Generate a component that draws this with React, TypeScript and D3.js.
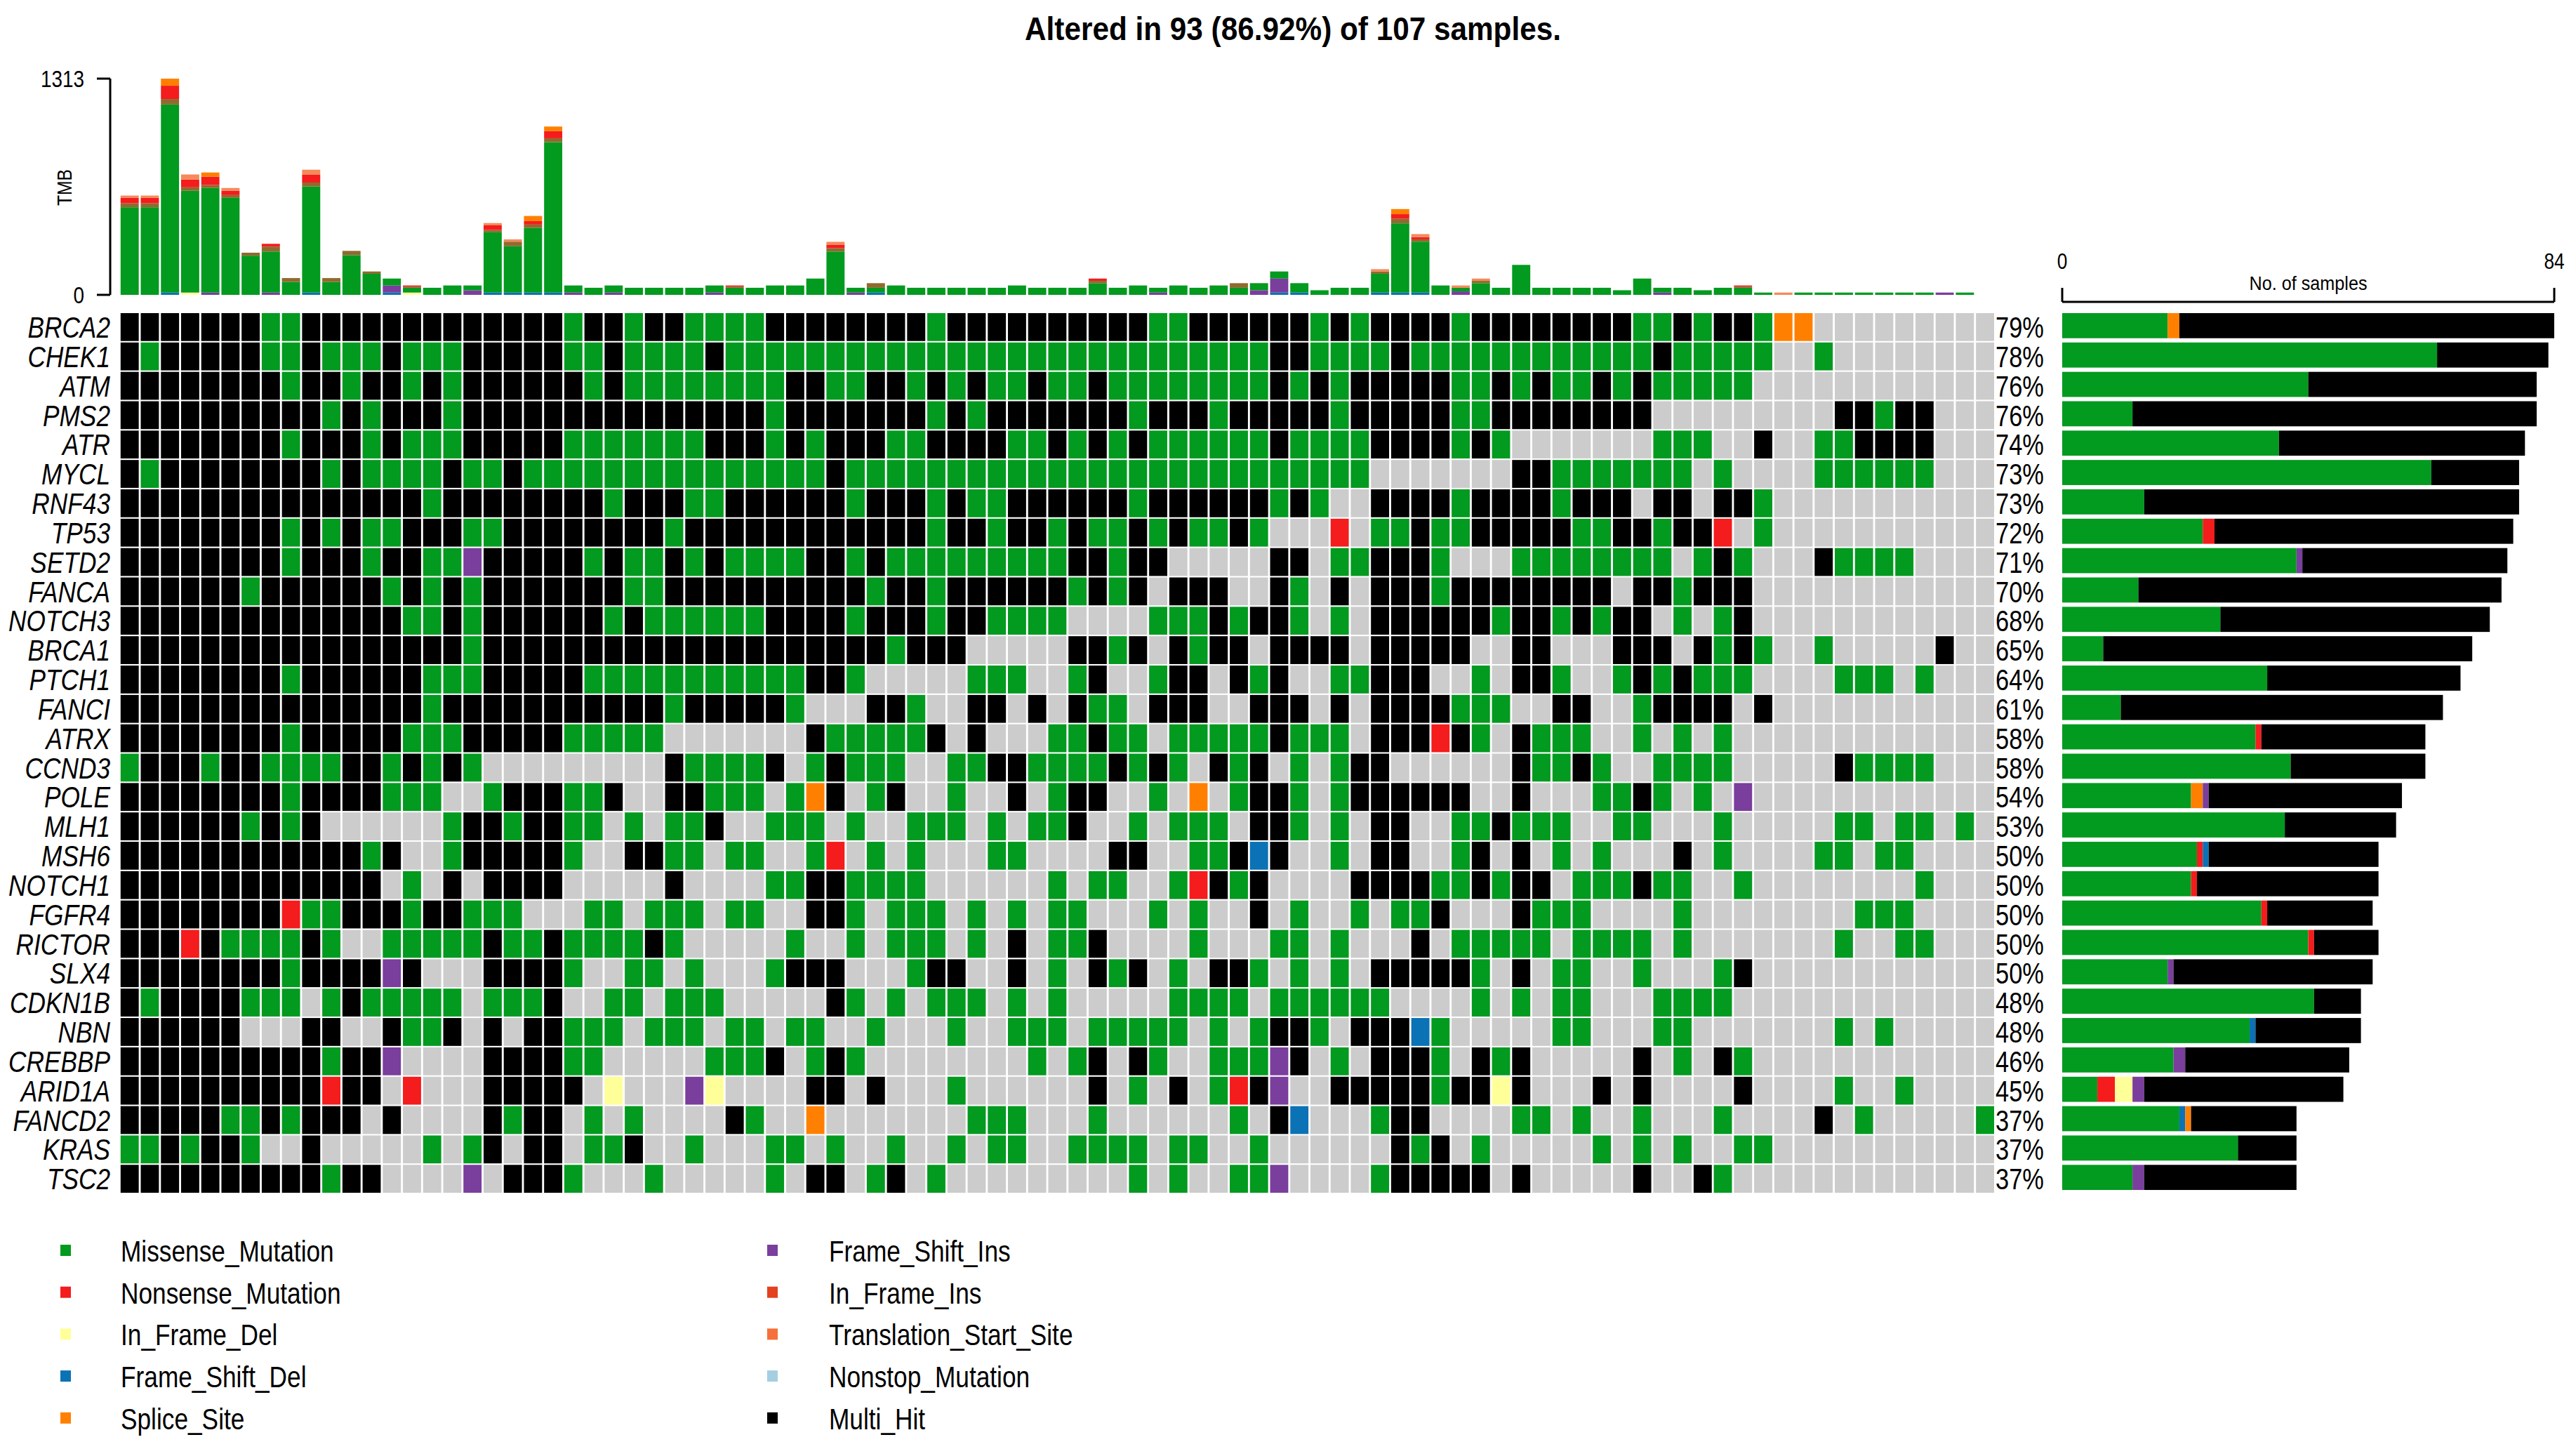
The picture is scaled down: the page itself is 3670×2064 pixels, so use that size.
import React from "react";
import * as d3 from "d3";

// oncoplot: 30 genes x 93 altered samples (107 total)
const W = 3670;
const H = 2064;

const titleText = "Altered in 93 (86.92%) of 107 samples.";

const genes = [
  "BRCA2", "CHEK1", "ATM", "PMS2", "ATR", "MYCL", "RNF43", "TP53", "SETD2", "FANCA",
  "NOTCH3", "BRCA1", "PTCH1", "FANCI", "ATRX", "CCND3", "POLE", "MLH1", "MSH6", "NOTCH1",
  "FGFR4", "RICTOR", "SLX4", "CDKN1B", "NBN", "CREBBP", "ARID1A", "FANCD2", "KRAS", "TSC2",
];

const genePct = [
  "79%", "78%", "76%", "76%", "74%", "73%", "73%", "72%", "71%", "70%",
  "68%", "65%", "64%", "61%", "58%", "58%", "54%", "53%", "50%", "50%",
  "50%", "50%", "50%", "48%", "48%", "46%", "45%", "37%", "37%", "37%",
];

// one char per sample: G missense, R nonsense, Y in-frame del, B frame-shift del,
// O splice site, P frame-shift ins, K multi-hit, . no mutation
const mutationRows = [
  "KKKKKKKGGKKKKKKKKKKKKKGK" + "KGKKGGGGKKKKKKKKGKKKKK" + "KKKKKGGKKKKKKGKGKKKKGKK" + "KKKKKKGGKGKKGOO.........",
  "KGKKKKKGGKGGGKGGGKKKKKGG" + "KGGGGKGGGGGGGGGGGGGGGG" + "GGGGGGGGGGGKKGGGGKGGGGG" + "GGGGGGGKGGGGG..G........",
  "KKKKKKKKGKKGKKGKGKKKKKKG" + "KGGGGGGGGKKGGKKGKGKGGK" + "GGKGGGGGGGGKGKGKKKKKGGK" + "GKGGKGKGGGGG............",
  "KKKKKKKKKKGKGKKKGKKKKKKK" + "KKKKKKKKGKKKKKKKGKGKKK" + "KKKKGKKKGKKKKKGKKKKKGGK" + "KKKKKKK.........KKGKK...",
  "KKKKKKKKGKKKGKGGGKKKKKGG" + "GGGGGKKKGKGKKKGGKKKKGG" + "KGKGKGGGGGGKGGGGKKKKGKG" + ".......GGG..K..GGKKKK...",
  "KGKKKKKKKKGKGGGGKGGKGGGG" + "GGGGGGGGGGGKGGGGGGGGGG" + "GGGGGGGGGGGGGGGG......." + "KKGGGGGGG.G....GGGGGG...",
  "KKKKKKKKKKKKKKKGKKKKKKKK" + "GKKKGGKKKKKKGKKKGKGGKK" + "KKKKGKKKKKKGKG..KKKKGKK" + "KKGKKK.KK.KKG...........",
  "KKKKKKKKGKGKGGKKKGGKKKKK" + "KKKGKKKKKKKKKKKKGKKGKK" + "GKGGKGKGGKG...R.GGKGGKK" + "KKKGGKKGKKR.G...........",
  "KKKKKKKKGKKKGKKGGPKKKKKG" + "KGGKGKGGGGKKGKGGGGGGGG" + "GKKGKK.....KK.GGKKKG..." + "GGGGGGGG.GKG...KGGGG....",
  "KKKKKKGKKKKKKGKGKGKKKKKK" + "KGGKKKKKKKKKKGKKGKKKKK" + "KGKGK.KKK..KG.K.KKKGKKK" + "KKKKK.KKGKKK............",
  "KKKKKKKKKKKKKKGGKGKKKKKK" + "GKGGGGGGKKKKGKKKGKKGGG" + "G....GGGKGKKG.G.KKKKKKG" + "KKGKGKK.G.GK............",
  "KKKKKKKKKKKKKKKKKGKKKKKK" + "KKKKKKKKKKKKKKGKKK...." + ".KKGK.KGKK.KKKK.KKKKK.." + "KK...KKK.KGKG..G.....K..",
  "KKKKKKKKGKKKKKKGGGKKKKKG" + "GGGGGGGGGGKKG.....GGG." + ".GK..GKK.KGK..GGKKK..G." + "KKG..GKGKGGG....GGG.G...",
  "KKKKKKKKKKKKKKKGKKKKKKKK" + "KKKGKKKKKG...KKG..KK.K" + ".KGG.KKK..KKK.K.KKKKGGG" + "..KK..GKKKK.K...........",
  "KKKKKKKKGKKKKKGGGKKKKKGG" + "GGG.......KGGGGGK.K..." + "GGKGG.GGGGGKGGG.KKKRKG." + "KGGG..G.G.G.............",
  "GKKKGKKGGGGKKGKGKG......" + "...KGGGGK.GKGGG..GGKKG" + "GGGKGKG.KGK.G.GKK......" + "KGGKG..GGGG.....KGGGG...",
  "KKKKKKKKGKKKKGGG..GKKKGG" + "K..KKGGG.GOK.GK..G..K." + "GKK..G.O.GKKG.GKKKKKK.." + "K...GGKG.G.P............",
  "KKKKKKGKGK......GKKGKKGG" + ".G.GGK..GGG.G..GGG.G.G" + "GK..G.GGG.KKG.G.KK..GGK" + "GGG..GG...G.....GG.GG.G.",
  "KKKKKKKKKKKKGK..GKKKKKG." + ".KKGG.GG..GR.G.G...GG." + "...KK..GGKBK..G.KK..GK." + "K.G.G...K.G....GG.GG....",
  "KKKKKKKKKKKKK.G.K.KKKK.." + "...K....GGKKGGGG......" + "G.GG..GRKGK....KKKKGGKG" + "KK.GGGKGG..G........G...",
  "KKKKKKKKRGGKKKGKKGGG...G" + "G.GGG.GG..KKG.GGG.G.G." + "GG...G.G..K.G..G.GGK..." + "KGGG....G........GGG....",
  "KKKRKGGGGKG..GGGGGKGGKGG" + "GGKG.....G..G.GGG.G.K." + "GGK....G...GG.G...K.GGG" + "GG.GGGG.G.......G..GG...",
  "KKKKKKKKGKKKKPK...KKKKG." + ".GG.G...GKKK...GKK..K." + "G.KGK.G.KKG.G.G.KKKKKG." + "K.GG..G...GK............",
  "KGKKKKGGG.GKGGGGG.GGGK.." + "GG.GGG.....KG.G.GGG.G." + "G.....GGGG.GGGGGG....G." + "G.GG...GGGG.............",
  "KKKKKK...KK..KGGK.K.KKGG" + "G.GGG.GG.GG..G...G..GG" + "G.GGGGG.G.GKKG.KKKBG..." + "..GG...GG.......G.G.....",
  "KKKKKKKKKKGKKP....KKKKGG" + ".....GGGK.GKG........G" + ".GK.KG..GGGPK.G.KKKG.KG" + "K.....K.G.KG............",
  "KKKKKKKKKKRKK.R...KKKKK." + "Y...PY....KK.K...G...." + "..K.G.K.GRKP..KKKKKGKKY" + "K...K.K....K....G..G....",
  "KKKKKGGKGKKK.K....KGKK.G" + ".G....KG..O.......GGG." + "..G......G.KB...GKK...." + "GG.G..G...G....K.G.....G",
  "GGKGKKG..K.....G.GK.KK.G" + "GK..G...GG.G..G..G.GG." + ".GGGG.GG..G......KGK.G." + "....G.G.G..GG...........",
  "KKKKKKKKKKGKK....P.KKKG." + "..G.....G.KK.GK.G....." + "....G.G..GGP....GKKKKK." + "K.....K..KG.............",
];

// TMB per sample (total)
const tmbTotal = [
  603, 603, 1313, 731, 743, 649, 256, 310, 102, 760,
  102, 267, 142, 99, 57, 43, 57, 57, 436, 337,
  479, 1022, 57, 43, 57, 43, 43, 43, 43, 57,
  57, 43, 57, 57, 99, 322, 43, 71, 57, 43,
  43, 43, 43, 43, 57, 43, 43, 43, 99, 43,
  57, 43, 57, 43, 57, 71, 71, 142, 71, 28,
  43, 43, 156, 521, 369, 57, 57, 99, 43, 182,
  43, 43, 43, 43, 28, 99, 43, 43, 28, 43,
  57, 14, 14, 14, 14, 14, 14, 14, 14, 14,
  14, 14, 0,
];

// [sample, In_Frame_Ins, Nonsense, Splice_Site, Translation_Start_Site] stacked above missense
const tmbUpper = [
  [1, 24, 33, 0, 14], [2, 24, 33, 0, 14], [3, 33, 81, 43, 0], [4, 21, 47, 0, 31],
  [5, 18, 50, 26, 0], [6, 17, 26, 0, 17], [7, 18, 0, 0, 0], [8, 30, 17, 0, 0],
  [9, 24, 0, 0, 0], [10, 24, 47, 0, 31], [11, 24, 0, 0, 0], [12, 26, 0, 0, 0],
  [13, 14, 0, 0, 0], [15, 7, 7, 0, 0], [19, 14, 28, 0, 14], [20, 28, 0, 0, 14],
  [21, 21, 21, 31, 0], [22, 24, 43, 28, 0], [31, 7, 7, 0, 0], [36, 21, 21, 0, 17],
  [38, 28, 0, 0, 0], [49, 14, 14, 0, 0], [56, 28, 0, 0, 0], [63, 14, 0, 0, 14],
  [64, 28, 28, 31, 0], [65, 14, 14, 0, 18], [67, 0, 0, 0, 14], [68, 14, 0, 0, 14],
  [81, 7, 7, 0, 0], [83, 0, 0, 0, 14],
];

// [sample, Frame_Shift_Del, Frame_Shift_Ins, In_Frame_Del] stacked below missense
const tmbLower = [
  [3, 14, 0, 0], [4, 0, 0, 14], [5, 0, 14, 0], [8, 0, 14, 0], [10, 14, 0, 0],
  [14, 14, 43, 0], [15, 0, 0, 14], [18, 0, 28, 0], [19, 14, 0, 0], [20, 14, 0, 0],
  [21, 14, 0, 0], [22, 14, 0, 0], [23, 0, 14, 0], [25, 0, 14, 0], [30, 0, 14, 0],
  [37, 0, 14, 0], [38, 14, 0, 0], [52, 0, 14, 0], [57, 0, 28, 0], [58, 14, 85, 0],
  [59, 14, 0, 0], [63, 14, 0, 0], [64, 14, 0, 0], [65, 14, 0, 0], [67, 0, 21, 0],
  [77, 0, 14, 0], [91, 0, 14, 0],
];

const tmbTicks = [0, 1313];
const sampleTicks = [0, 84];

const legendLeft = ["Missense_Mutation", "Nonsense_Mutation", "In_Frame_Del", "Frame_Shift_Del", "Splice_Site"];
const legendRight = ["Frame_Shift_Ins", "In_Frame_Ins", "Translation_Start_Site", "Nonstop_Mutation", "Multi_Hit"];

const vcColors: Record<string, string> = {
  Missense_Mutation: "#029A1F",
  Nonsense_Mutation: "#F41C1C",
  In_Frame_Del: "#FFFF99",
  Frame_Shift_Del: "#0B72B5",
  Splice_Site: "#FF8000",
  Frame_Shift_Ins: "#7A3E9D",
  In_Frame_Ins: "#E3411F",
  Translation_Start_Site: "#F5703A",
  Nonstop_Mutation: "#A6CEE3",
  Multi_Hit: "#000000",
};
// thin layers in the TMB bars blur to these tones
const tmbColors: Record<string, string> = {
  ...vcColors,
  In_Frame_Ins: "#8E6B2F",
  Translation_Start_Site: "#F58A5A",
};

const codeClass: Record<string, string> = {
  G: "Missense_Mutation",
  R: "Nonsense_Mutation",
  Y: "In_Frame_Del",
  B: "Frame_Shift_Del",
  O: "Splice_Site",
  P: "Frame_Shift_Ins",
  I: "In_Frame_Ins",
  T: "Translation_Start_Site",
  N: "Nonstop_Mutation",
  K: "Multi_Hit",
};

const FONT = "'Liberation Sans', Arial, sans-serif";

const NText = ({ x, y, size, anchor = "start", sx = 0.82, italic = false, bold = false, rotate = 0, children }: any) => (
  <text
    transform={`translate(${x},${y}) rotate(${rotate}) scale(${sx},1)`}
    fontSize={size}
    textAnchor={anchor}
    fontFamily={FONT}
    fontStyle={italic ? "italic" : "normal"}
    fontWeight={bold ? "bold" : "normal"}
    fill="#000"
  >
    {children}
  </text>
);

export default function App() {
  const nCols = mutationRows[0].length;

  const xCol = d3.scaleBand<number>().domain(d3.range(nCols)).range([171.8, 2841]).paddingInner(0.1);
  const yRow = d3.scaleBand<number>().domain(d3.range(genes.length)).range([446, 1699]).paddingInner(0.05);
  const rowStep = yRow.step();
  const yTmb = d3.scaleLinear().domain([tmbTicks[0], tmbTicks[1]]).range([420, 112]);
  const xCount = d3.scaleLinear().domain(sampleTicks).range([2938, 3639]);

  // TMB stacked bars
  const upper = new Map(tmbUpper.map((r) => [r[0] - 1, r]));
  const lower = new Map(tmbLower.map((r) => [r[0] - 1, r]));
  const tmbRows = tmbTotal.map((total, i) => {
    const lo = lower.get(i) ?? [0, 0, 0, 0];
    const up = upper.get(i) ?? [0, 0, 0, 0, 0];
    const miss = Math.max(0, total - lo[1] - lo[2] - lo[3] - up[1] - up[2] - up[3] - up[4]);
    return {
      Frame_Shift_Del: lo[1],
      Frame_Shift_Ins: lo[2],
      In_Frame_Del: lo[3],
      Missense_Mutation: miss,
      In_Frame_Ins: up[1],
      Nonsense_Mutation: up[2],
      Splice_Site: up[3],
      Translation_Start_Site: up[4],
    };
  });
  const tmbKeys = [
    "Frame_Shift_Del", "Frame_Shift_Ins", "In_Frame_Del", "Missense_Mutation",
    "In_Frame_Ins", "Nonsense_Mutation", "Splice_Site", "Translation_Start_Site",
  ];
  const tmbStack = d3.stack<any>().keys(tmbKeys)(tmbRows);

  // right bars: counts per variant class, straight from the matrix
  const barKeys = [
    "Missense_Mutation", "Nonsense_Mutation", "In_Frame_Del", "Frame_Shift_Del", "Splice_Site",
    "Frame_Shift_Ins", "In_Frame_Ins", "Translation_Start_Site", "Nonstop_Mutation", "Multi_Hit",
  ];
  const geneCounts = mutationRows.map((row) => {
    const c: Record<string, number> = Object.fromEntries(barKeys.map((k) => [k, 0]));
    for (const ch of row) if (ch !== ".") c[codeClass[ch]] += 1;
    return c;
  });
  const barStack = d3.stack<any>().keys(barKeys)(geneCounts);
  const barH = rowStep * 0.855;

  const bw = xCol.bandwidth();

  return (
    <div style={{ position: "absolute", left: 0, top: 0, background: "#fff" }}>
      <svg width={W} height={H} viewBox={`0 0 ${W} ${H}`} style={{ display: "block" }}>
        <rect width={W} height={H} fill="#fff" />

        {/* title */}
        <NText x={1842} y={57} size={47} sx={0.9} anchor="middle" bold>
          {titleText}
        </NText>

        {/* TMB axis */}
        <g stroke="#000" strokeWidth={3}>
          <line x1={157} x2={157} y1={yTmb(tmbTicks[1])} y2={yTmb(tmbTicks[0])} />
          {tmbTicks.map((t) => (
            <line key={t} x1={138} x2={157} y1={yTmb(t)} y2={yTmb(t)} />
          ))}
        </g>
        {tmbTicks.map((t) => (
          <NText key={t} x={120} y={yTmb(t) + 12} size={34} anchor="end">
            {t}
          </NText>
        ))}
        <NText x={102} y={267} size={30} anchor="middle" rotate={-90}>
          TMB
        </NText>

        {/* TMB bars */}
        {tmbStack.map((layer) => (
          <g key={layer.key} fill={tmbColors[layer.key]}>
            {layer.map((d, i) =>
              d[1] - d[0] > 0 ? (
                <rect
                  key={i}
                  x={xCol(i)!}
                  width={bw}
                  y={yTmb(d[1])}
                  height={yTmb(d[0]) - yTmb(d[1])}
                />
              ) : null
            )}
          </g>
        ))}

        {/* oncoprint matrix */}
        {mutationRows.map((row, r) => (
          <g key={genes[r]}>
            {row.split("").map((ch, c) => (
              <rect
                key={c}
                x={xCol(c)!}
                y={yRow(r)!}
                width={bw}
                height={yRow.bandwidth()}
                fill={ch === "." ? "#CCCCCC" : vcColors[codeClass[ch]]}
              />
            ))}
          </g>
        ))}

        {/* gene names and percentages */}
        {genes.map((g, r) => (
          <NText key={g} x={157} y={yRow(r)! + 35} size={43} anchor="end" italic>
            {g}
          </NText>
        ))}
        {genePct.map((p, r) => (
          <NText key={r} x={2843} y={yRow(r)! + 35} size={42}>
            {p}
          </NText>
        ))}

        {/* right bar chart */}
        <g stroke="#000" strokeWidth={3}>
          <line x1={xCount(sampleTicks[0])} x2={xCount(sampleTicks[1])} y1={430} y2={430} />
          {sampleTicks.map((t) => (
            <line key={t} x1={xCount(t)} x2={xCount(t)} y1={410} y2={430} />
          ))}
        </g>
        {sampleTicks.map((t) => (
          <NText key={t} x={xCount(t)} y={383} size={32} anchor="middle">
            {t}
          </NText>
        ))}
        <NText x={(xCount(sampleTicks[0]) + xCount(sampleTicks[1])) / 2} y={413} size={28} sx={0.9} anchor="middle">
          No. of samples
        </NText>
        {barStack.map((layer) => (
          <g key={layer.key} fill={vcColors[layer.key]}>
            {layer.map((d, r) =>
              d[1] - d[0] > 0 ? (
                <rect
                  key={r}
                  x={xCount(d[0])}
                  width={xCount(d[1]) - xCount(d[0])}
                  y={446 + r * rowStep}
                  height={barH}
                />
              ) : null
            )}
          </g>
        ))}

        {/* legend */}
        {[legendLeft, legendRight].map((items, col) =>
          items.map((name, i) => {
            const cy = 1781 + i * 59.7;
            const sqX = col === 0 ? 86 : 1093;
            const txX = col === 0 ? 172 : 1181;
            return (
              <g key={name}>
                <rect x={sqX} y={cy - 8} width={15} height={16} fill={vcColors[name]} />
                <NText x={txX} y={cy + 16} size={43}>
                  {name}
                </NText>
              </g>
            );
          })
        )}
      </svg>
    </div>
  );
}
